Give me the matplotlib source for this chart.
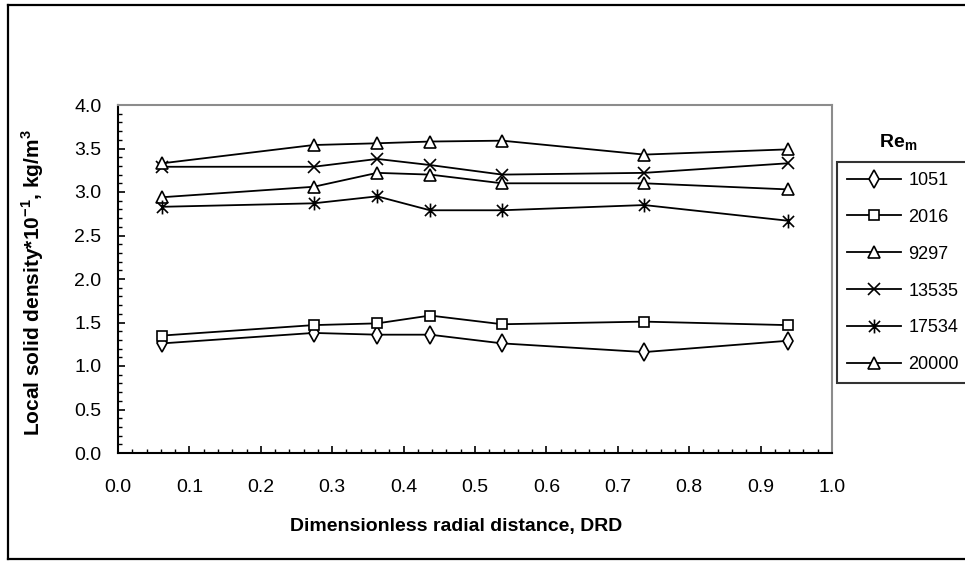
import matplotlib
matplotlib.use("Agg")
import matplotlib.pyplot as plt
from matplotlib.path import Path
from matplotlib.lines import Line2D
from matplotlib.ticker import MultipleLocator, FormatStrFormatter

plt.rcParams['font.family'] = ['Liberation Sans', 'DejaVu Sans']
plt.rcParams['mathtext.fontset'] = 'custom'
plt.rcParams['mathtext.rm'] = 'Liberation Sans'
plt.rcParams['mathtext.bf'] = 'Liberation Sans:bold'

drd = [0.062, 0.274, 0.363, 0.437, 0.538, 0.737, 0.938]
series_names = ['1051', '2016', '9297', '13535', '17534', '20000']
re_1051 = [1.26, 1.38, 1.36, 1.36, 1.26, 1.16, 1.29]
re_2016 = [1.35, 1.47, 1.49, 1.58, 1.48, 1.51, 1.47]
re_9297 = [2.94, 3.06, 3.22, 3.20, 3.10, 3.10, 3.03]
re_13535 = [3.29, 3.29, 3.38, 3.31, 3.20, 3.22, 3.33]
re_17534 = [2.83, 2.87, 2.95, 2.79, 2.79, 2.85, 2.67]
re_20000 = [3.33, 3.54, 3.56, 3.58, 3.59, 3.43, 3.49]

x_ticks = [0.0, 0.1, 0.2, 0.3, 0.4, 0.5, 0.6, 0.7, 0.8, 0.9, 1.0]
y_ticks = [0.0, 0.5, 1.0, 1.5, 2.0, 2.5, 3.0, 3.5, 4.0]

asterisk = Path([(0, -1), (0, 1), (-0.8, -0.8), (0.8, 0.8), (-0.8, 0.8), (0.8, -0.8)],
                [Path.MOVETO, Path.LINETO, Path.MOVETO, Path.LINETO, Path.MOVETO, Path.LINETO])

styles = [
    dict(marker='d', ms=9),
    dict(marker='s', ms=6.5),
    dict(marker='^', ms=9),
    dict(marker='x', ms=9),
    dict(marker=asterisk, ms=10),
    dict(marker='^', ms=9),
]
data = [re_1051, re_2016, re_9297, re_13535, re_17534, re_20000]

fig = plt.figure(figsize=(9.65, 5.61), dpi=100)
ax = fig.add_axes([118/965, 1-453/561, (832-118)/965, (453-105)/561])

for name, vals, st in zip(series_names, data, styles):
    ax.plot(drd, vals, color='black', lw=1.3, marker=st['marker'], ms=st['ms'],
            mfc='white', mec='black', mew=1.2, label=name)

ax.set_xlim(0, 1.0)
ax.set_ylim(0, 4.0)
ax.set_xticks(x_ticks)
ax.set_yticks(y_ticks)
ax.xaxis.set_major_formatter(FormatStrFormatter('%.1f'))
ax.yaxis.set_major_formatter(FormatStrFormatter('%.1f'))
ax.xaxis.set_minor_locator(MultipleLocator(0.02))
ax.yaxis.set_minor_locator(MultipleLocator(0.1))
ax.tick_params(which='major', direction='in', length=5, width=1.2, labelsize=14)
ax.tick_params(which='minor', direction='in', length=3, width=1.0)
ax.tick_params(axis='x', which='major', pad=19)
ax.tick_params(axis='y', which='major', pad=12)
for s in ['left', 'bottom']:
    ax.spines[s].set_color('black')
    ax.spines[s].set_linewidth(1.5)
for s in ['top', 'right']:
    ax.spines[s].set_color('#8c8c8c')
    ax.spines[s].set_linewidth(1.5)

fig.text(456/965, 1-527/561, 'Dimensionless radial distance, DRD', fontsize=14,
         fontweight='bold', ha='center', va='center')
fig.text(33/965, 1-283/561, 'Local solid density*10$^{\\mathbf{-1}}$, kg/m$^{\\mathbf{3}}$',
         fontsize=15, fontweight='bold', rotation=90, ha='center', va='center')

leg = fig.legend(loc='upper left', bbox_to_anchor=(837/965, 1-162/561), fontsize=13,
                 frameon=True, fancybox=False, edgecolor='black', handlelength=3.0,
                 handletextpad=0.4, labelspacing=1.1, borderpad=0.55, borderaxespad=0)
leg.get_frame().set_linewidth(1.5)
fig.text(898/965, 1-143/561, 'Re$_{\\mathbf{m}}$', fontsize=14, fontweight='bold',
         ha='center', va='center')

# outer chart frame (left, top, bottom edges visible)
for xs, ys in [((8/965, 8/965), (1-5/561, 1-559/561)),
               ((8/965, 1.0), (1-5/561, 1-5/561)),
               ((8/965, 1.0), (1-559/561, 1-559/561))]:
    fig.lines.append(Line2D(xs, ys, transform=fig.transFigure, color='black', lw=1.6))

fig.savefig('out.png', dpi=100)
